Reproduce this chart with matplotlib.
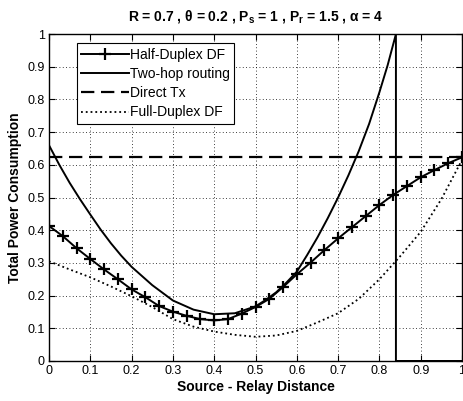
import numpy as np
import matplotlib
matplotlib.use('Agg')
import matplotlib.pyplot as plt

plt.rcParams['font.family'] = ['Liberation Sans', 'DejaVu Sans']
plt.rcParams['mathtext.fontset'] = 'custom'
plt.rcParams['mathtext.rm'] = 'Liberation Sans'
plt.rcParams['mathtext.bf'] = 'Liberation Sans:bold'

# Half-Duplex DF (31 points, step 1/30)
hd_x = np.linspace(0, 1, 31)
hd_y = [0.413, 0.382, 0.345, 0.312, 0.280, 0.250, 0.219, 0.195, 0.168, 0.151,
        0.138, 0.128, 0.124, 0.128, 0.145, 0.165, 0.190, 0.226, 0.265, 0.301,
        0.339, 0.375, 0.409, 0.443, 0.477, 0.508, 0.535, 0.562, 0.584, 0.605,
        0.623]

# Two-hop routing (infeasible beyond ~0.84 -> 0)
th_x = [0.0, 0.025, 0.05, 0.075, 0.1, 0.125, 0.15, 0.175, 0.2, 0.25, 0.3, 0.35,
        0.4, 0.45, 0.5, 0.525, 0.55, 0.575, 0.6, 0.625, 0.65, 0.675, 0.7, 0.725,
        0.75, 0.775, 0.8, 0.82, 0.84, 0.84, 1.0]
th_y = [0.66, 0.60, 0.545, 0.495, 0.448, 0.402, 0.36, 0.322, 0.288, 0.232, 0.185,
        0.157, 0.143, 0.146, 0.167, 0.187, 0.21, 0.24, 0.273, 0.324, 0.378,
        0.437, 0.50, 0.568, 0.642, 0.725, 0.822, 0.905, 1.0, 0.0, 0.0]

# Direct Tx
dt_x = [0.0, 1.0]
dt_y = [0.625, 0.625]

# Full-Duplex DF
fd_x = [0.0, 0.05, 0.1, 0.15, 0.2, 0.25, 0.3, 0.35, 0.4, 0.45, 0.5, 0.55, 0.6,
        0.65, 0.7, 0.75, 0.8, 0.85, 0.9, 0.95, 1.0]
fd_y = [0.305, 0.28, 0.256, 0.228, 0.198, 0.165, 0.128, 0.105, 0.09, 0.08, 0.074,
        0.078, 0.092, 0.118, 0.146, 0.19, 0.25, 0.32, 0.395, 0.495, 0.615]

fig = plt.figure(figsize=(4.64, 4.01), dpi=100)
ax = fig.add_axes([0.1056, 0.0998, 0.8901, 0.8152])

ax.plot(hd_x, hd_y, '-', color='black', linewidth=1.4, marker='+',
        markersize=9, markeredgewidth=1.6, label='Half-Duplex DF')
ax.plot(th_x, th_y, '-', color='black', linewidth=1.4, label='Two-hop routing')
ax.plot(dt_x, dt_y, '--', color='black', linewidth=1.6, dashes=(6, 3),
        label='Direct Tx')
ax.plot(fd_x, fd_y, ':', color='black', linewidth=1.3, label='Full-Duplex DF')

ax.set_xlim(0, 1)
ax.set_ylim(0, 1)
ax.set_xticks(np.arange(0, 1.01, 0.1))
ax.set_yticks(np.arange(0, 1.01, 0.1))
ax.set_xticklabels(['0', '0.1', '0.2', '0.3', '0.4', '0.5', '0.6', '0.7', '0.8',
                    '0.9', '1'])
ax.set_yticklabels(['0', '0.1', '0.2', '0.3', '0.4', '0.5', '0.6', '0.7', '0.8',
                    '0.9', '1'])
ax.tick_params(direction='in', top=True, right=True, length=4, width=0.8,
               labelsize=9, pad=3)
ax.grid(True, linestyle=(0, (1, 3)), color='black', linewidth=0.6)
for s in ax.spines.values():
    s.set_linewidth(1.0)

ax.set_xlabel('Source - Relay Distance', fontsize=10, fontweight='bold',
              labelpad=2)
ax.set_ylabel('Total Power Consumption', fontsize=10, fontweight='bold',
              labelpad=4)
ax.set_title(r'R = 0.7 , θ = 0.2 , P$_\mathbf{s}$ = 1 , P$_\mathbf{r}$ = 1.5 , α = 4',
             fontsize=10, fontweight='bold', pad=10)

leg = ax.legend(loc='upper left', bbox_to_anchor=(0.0685, 0.9716),
                borderaxespad=0, fontsize=10, handlelength=3.4,
                handletextpad=0.1, labelspacing=0.38, fancybox=False,
                framealpha=1, edgecolor='black', borderpad=0.3)
leg.get_frame().set_linewidth(0.8)

plt.savefig('out.png', dpi=100, facecolor='white')
